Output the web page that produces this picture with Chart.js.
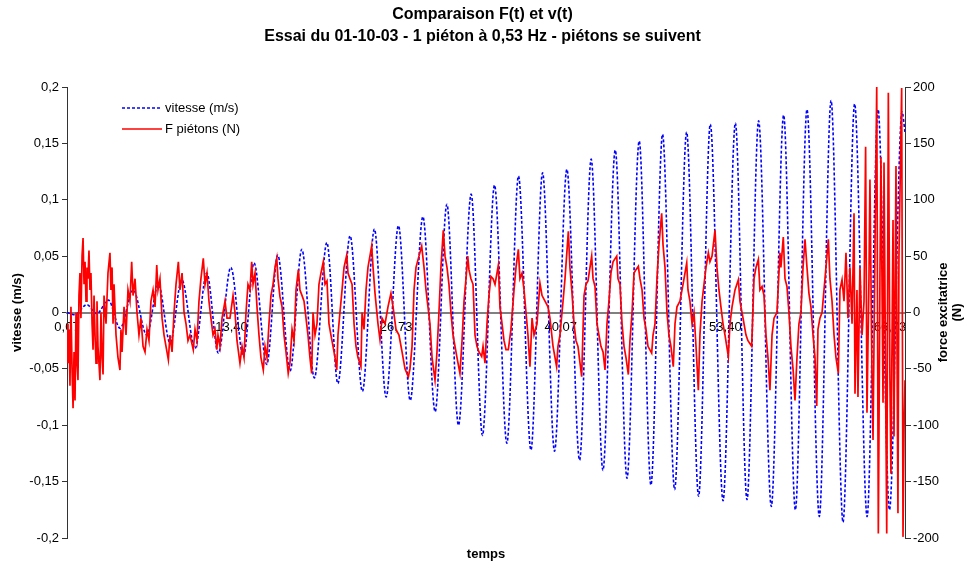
<!DOCTYPE html>
<html>
<head>
<meta charset="utf-8">
<script src="https://cdn.jsdelivr.net/npm/chart.js@4.4.1/dist/chart.umd.min.js"></script>
<style>
html, body { margin: 0; padding: 0; background: #fff; }
</style>
</head>
<body>
<canvas id="chart" width="965" height="567"></canvas>
<script>
const titleLines = ['Comparaison F(t) et v(t)', 'Essai du 01-10-03 - 1 piéton à 0,53 Hz - piétons se suivent'];
const xTitle = 'temps';
const yTitle = 'vitesse (m/s)';
const y1Title = ['force excitatrice', '(N)'];
const seriesNames = ['vitesse (m/s)', 'F piétons (N)'];

// tick labels of the time axis (s)
const xTickValues = [0.07, 13.40, 26.73, 40.07, 53.40, 66.73];
const xTickLabels = ['0,07', '13,40', '26,73', '40,07', '53,40', '66,73'];

// vitesse (m/s): [t, v] read at the crests and troughs
const vitesse = [
  [0.07,0],[0.72,-0.002],[1.67,0.007],[2.48,-0.001],[3.42,0.011],[4.37,-0.014],[5.44,0.020],[6.53,-0.020],
  [7.47,0.025],[8.42,-0.027],[9.37,0.029],[10.44,-0.032],[11.39,0.035],[12.33,-0.036],[13.34,0.040],[14.36,-0.039],
  [15.22,0.044],[16.25,-0.046],[17.14,0.051],[18.14,-0.052],[19.09,0.056],[20.11,-0.058],[21.12,0.062],[22.01,-0.063],
  [23.00,0.068],[24.00,-0.070],[24.97,0.074],[25.92,-0.075],[26.92,0.077],[27.87,-0.078],[28.90,0.085],[29.89,-0.088],
  [30.84,0.096],[31.78,-0.100],[32.81,0.105],[33.72,-0.109],[34.70,0.113],[35.70,-0.116],[36.64,0.121],[37.65,-0.122],
  [38.59,0.124],[39.56,-0.123],[40.56,0.127],[41.59,-0.131],[42.53,0.136],[43.48,-0.140],[44.48,0.144],[45.43,-0.147],
  [46.42,0.152],[47.37,-0.153],[48.31,0.158],[49.29,-0.157],[50.26,0.160],[51.23,-0.163],[52.18,0.167],[53.21,-0.167],
  [54.21,0.168],[55.15,-0.166],[56.09,0.170],[57.12,-0.172],[58.12,0.175],[59.07,-0.175],[60.01,0.180],[61.01,-0.181],
  [61.96,0.188],[62.93,-0.186],[63.87,0.185],[64.88,-0.181],[65.77,0.180],[66.69,-0.175],[67.71,0.178],[67.95,0.16]
];

// F piétons (N): [t, F]
const force = [
  [0.07,-10],[0.15,-45],[0.23,-15],[0.31,-65],[0.39,5],[0.48,-50],[0.56,-85],[0.64,-35],[0.72,-78],[0.80,0],
  [0.88,-45],[0.96,-60],[1.04,15],[1.12,35],[1.20,-5],[1.29,50],[1.37,66],[1.45,25],[1.53,45],[1.61,10],
  [1.69,40],[1.77,30],[1.85,55],[1.93,20],[2.01,35],[2.10,-10],[2.18,-33],[2.26,15],[2.34,-20],[2.42,-45],
  [2.50,10],[2.58,-30],[2.74,-60],[2.82,0],[2.91,-40],[2.99,-55],[3.07,15],[3.23,-10],[3.39,35],[3.55,53],
  [3.63,20],[3.72,40],[3.80,-10],[3.88,25],[4.04,-20],[4.20,-40],[4.36,-51],[4.44,-15],[4.53,-35],[4.69,5],
  [4.85,-20],[5.01,20],[5.17,10],[5.31,45],[5.42,15],[5.58,30],[5.74,0],[5.90,-20],[6.06,-5],[6.23,-30],
  [6.39,-35],[6.55,-15],[6.71,-25],[6.87,10],[7.04,20],[7.20,5],[7.34,42],[7.44,20],[7.60,30],[7.77,-5],
  [7.93,-20],[8.09,-30],[8.28,-42],[8.41,-20],[8.58,-35],[8.74,0],[8.90,25],[9.09,45],[9.22,20],[9.39,35],
  [9.55,0],[9.71,-10],[9.87,-25],[10.03,-20],[10.30,-33],[10.44,-15],[10.60,-25],[10.76,10],[10.92,30],[11.11,48],
  [11.25,25],[11.41,35],[11.57,10],[11.73,-5],[11.90,-20],[12.06,-15],[12.20,-33],[12.30,-20],[12.46,-30],[12.63,-5],
  [12.87,10],[13.03,-5],[13.27,-5],[13.52,15],[13.68,0],[13.84,-25],[14.08,-45],[14.25,-30],[14.41,-40],[14.57,0],
  [14.73,25],[14.89,20],[15.03,45],[15.14,25],[15.30,35],[15.46,5],[15.62,-20],[15.78,-40],[15.97,-51],[16.11,-30],
  [16.27,-40],[16.43,-10],[16.59,15],[16.76,25],[16.92,40],[17.06,48],[17.16,30],[17.32,14],[17.49,5],[17.65,-20],
  [17.81,-35],[17.99,-54],[18.13,-45],[18.30,-15],[18.46,-25],[18.62,20],[18.81,38],[18.94,20],[19.11,15],[19.27,10],
  [19.43,-5],[19.59,-20],[19.75,-40],[19.89,-54],[20.00,0],[20.16,-20],[20.32,-10],[20.48,25],[20.64,35],[20.83,45],
  [20.97,25],[21.13,28],[21.29,-10],[21.45,-20],[21.62,-30],[21.78,-40],[21.92,-51],[22.02,-20],[22.18,0],[22.35,20],
  [22.51,40],[22.73,51],[22.83,35],[22.99,30],[23.16,25],[23.32,-10],[23.48,-30],[23.64,-40],[23.88,-48],[23.97,0],
  [24.13,-15],[24.29,20],[24.45,40],[24.75,59],[24.86,40],[25.02,17],[25.26,-10],[25.42,-24],[25.59,-5],[25.83,-10],
  [26.07,5],[26.31,17],[26.48,5],[26.72,-15],[26.96,-20],[27.21,-35],[27.45,-50],[27.72,-57],[27.85,-50],[28.02,-30],
  [28.18,20],[28.34,40],[28.58,50],[28.80,59],[28.99,40],[29.15,20],[29.31,5],[29.47,-10],[29.64,-40],[29.88,-60],
  [30.04,-35],[30.20,0],[30.36,40],[30.55,73],[30.69,50],[30.85,40],[31.01,25],[31.17,0],[31.34,-20],[31.50,-30],
  [31.66,-40],[31.90,-54],[32.07,-25],[32.23,10],[32.39,30],[32.53,50],[32.63,38],[32.79,30],[32.96,25],[33.12,-20],
  [33.28,-30],[33.44,-35],[33.66,-39],[33.77,-30],[33.93,-45],[34.09,-10],[34.25,15],[34.41,32],[34.58,30],[34.74,25],
  [35.01,42],[35.14,5],[35.31,-10],[35.47,-25],[35.63,-33],[35.82,-33],[36.03,-15],[36.28,20],[36.44,40],[36.63,56],
  [36.76,30],[36.93,35],[37.09,20],[37.25,0],[37.41,-20],[37.57,-48],[37.74,-5],[37.90,-20],[38.14,-10],[38.38,26],
  [38.55,15],[38.79,10],[39.03,5],[39.19,-5],[39.44,-30],[39.73,-48],[39.84,-30],[40.00,-20],[40.25,10],[40.41,30],
  [40.68,72],[40.81,40],[40.98,17],[41.14,-10],[41.30,-25],[41.46,-30],[41.76,-57],[41.95,15],[42.11,25],[42.27,28],
  [42.57,50],[42.68,30],[42.84,23],[43.00,-10],[43.16,-20],[43.32,-30],[43.49,-35],[43.65,-51],[43.81,-10],[43.97,10],
  [44.13,35],[44.30,45],[44.60,50],[44.70,30],[44.86,25],[45.03,-10],[45.19,-30],[45.35,-40],[45.54,-55],[45.67,-25],
  [45.84,0],[46.00,35],[46.16,38],[46.35,41],[46.48,30],[46.65,20],[46.81,-5],[46.97,-15],[47.13,-30],[47.43,-36],
  [47.54,-20],[47.70,-10],[47.86,30],[48.02,60],[48.24,88],[48.35,60],[48.51,40],[48.67,0],[48.83,-20],[48.99,-30],
  [49.18,-48],[49.32,-10],[49.48,5],[49.72,10],[49.97,25],[50.27,44],[50.37,20],[50.53,10],[50.70,-10],[50.86,0],
  [51.02,-30],[51.21,-69],[51.34,-20],[51.51,10],[51.67,25],[51.83,40],[52.02,53],[52.15,45],[52.32,50],[52.56,73],
  [52.72,40],[52.88,20],[53.04,5],[53.21,-10],[53.37,-20],[53.64,-39],[53.77,-10],[53.94,5],[54.18,20],[54.45,29],
  [54.58,10],[54.83,-5],[55.07,-20],[55.23,-25],[55.53,-30],[55.72,30],[55.88,40],[56.07,47],[56.20,20],[56.37,23],
  [56.53,15],[56.69,-20],[56.85,-40],[57.01,-69],[57.18,-20],[57.34,-5],[57.58,0],[57.82,53],[57.90,40],[58.09,67],
  [58.23,30],[58.39,23],[58.55,0],[58.71,-30],[58.88,-50],[59.04,-78],[59.20,-40],[59.36,-10],[59.52,0],[59.69,40],
  [59.85,65],[60.01,40],[60.17,17],[60.33,5],[60.50,-20],[60.66,-40],[60.80,-83],[60.90,-15],[61.06,-5],[61.23,0],
  [61.47,30],[61.74,65],[61.87,30],[62.04,10],[62.20,-20],[62.36,-40],[62.55,-54],[62.68,20],[62.85,29],[63.01,10],
  [63.17,53],[63.33,-5],[63.49,40],[63.66,-10],[63.82,88],[63.90,-72],[64.06,20],[64.14,-75],[64.30,40],[64.47,-20],
  [64.63,10],[64.76,147],[64.87,-89],[65.03,30],[65.11,118],[65.28,-60],[65.36,-113],[65.52,60],[65.66,200],[65.79,-196],
  [65.92,30],[66.00,138],[66.17,-80],[66.25,133],[66.47,-196],[66.60,195],[66.73,-60],[66.81,-143],[66.98,82],[67.06,-110],
  [67.22,130],[67.38,-178],[67.46,50],[67.68,199],[67.79,-199],[67.87,-104],[67.95,-60]
];

const fontFamily = '"Liberation Sans", Arial, sans-serif';
Chart.defaults.font.family = fontFamily;
Chart.defaults.color = '#000';

const blue = '#0000ff';
const red = '#ff0000';
const tMin = 0.07, tMax = 67.95;

function frNum(v) {
  return String(Math.round(v * 100) / 100).replace('.', ',');
}

// legend drawn inside the plot, plus the right-hand axis title
const extras = {
  id: 'extras',
  afterDraw(chart) {
    const ctx = chart.ctx;
    const a = chart.chartArea;
    ctx.save();
    ctx.font = '13px ' + fontFamily;
    ctx.textBaseline = 'middle';
    ctx.textAlign = 'left';
    const lx = a.left + 55, ly = a.top + 21;
    ctx.lineWidth = 1.6;
    ctx.strokeStyle = blue;
    ctx.setLineDash([3, 2]);
    ctx.beginPath(); ctx.moveTo(lx, ly); ctx.lineTo(lx + 38, ly); ctx.stroke();
    ctx.setLineDash([]);
    ctx.strokeStyle = red;
    ctx.beginPath(); ctx.moveTo(lx, ly + 21); ctx.lineTo(lx + 40, ly + 21); ctx.stroke();
    ctx.fillStyle = '#000';
    ctx.fillText(seriesNames[0], lx + 43, ly);
    ctx.fillText(seriesNames[1], lx + 43, ly + 21);

    ctx.font = 'bold 13px ' + fontFamily;
    ctx.textAlign = 'center';
    ctx.translate(a.right + 38, (a.top + a.bottom) / 2);
    ctx.rotate(-Math.PI / 2);
    ctx.fillText(y1Title[0], 0, 0);
    ctx.fillText(y1Title[1], 0, 14);
    ctx.restore();
  }
};

new Chart(document.getElementById('chart'), {
  type: 'line',
  data: {
    datasets: [
      {
        label: seriesNames[0],
        data: vitesse.map(p => ({ x: p[0], y: p[1] })),
        yAxisID: 'y',
        borderColor: blue,
        borderWidth: 1.6,
        borderDash: [3, 2],
        pointRadius: 0,
        cubicInterpolationMode: 'monotone',
        order: 1
      },
      {
        label: seriesNames[1],
        data: force.map(p => ({ x: p[0], y: p[1] })),
        yAxisID: 'y1',
        borderColor: red,
        borderWidth: 1.7,
        pointRadius: 0,
        tension: 0,
        order: 0
      }
    ]
  },
  options: {
    responsive: false,
    animation: false,
    layout: { padding: 0 },
    plugins: {
      legend: { display: false },
      tooltip: { enabled: false },
      title: {
        display: true,
        text: titleLines,
        color: '#000',
        font: { size: 16, weight: 'bold', lineHeight: 1.375 },
        padding: { top: 4, bottom: 39 }
      }
    },
    scales: {
      x: {
        type: 'linear',
        position: { y: 0 },
        min: tMin,
        max: tMax,
        bounds: 'data',
        z: 1,
        grid: { display: false, drawTicks: false },
        border: { display: true, color: '#808080', width: 2 },
        afterBuildTicks: s => { s.ticks = xTickValues.map(v => ({ value: v })); },
        ticks: {
          autoSkip: false,
          maxRotation: 0,
          padding: 7,
          font: { size: 13 },
          callback: (v, i) => xTickLabels[i]
        }
      },
      xb: {
        type: 'linear',
        position: 'bottom',
        min: tMin,
        max: tMax,
        grid: { display: false },
        border: { display: false },
        ticks: { display: false },
        title: {
          display: true,
          text: xTitle,
          font: { size: 13, weight: 'bold' },
          padding: { top: 0, bottom: 5 }
        },
        afterFit: s => { s.height = 29; }
      },
      y: {
        position: 'left',
        min: -0.2,
        max: 0.2,
        grid: { display: true, drawOnChartArea: false, drawTicks: true, tickLength: 5, color: '#333' },
        border: { display: true, color: '#333', width: 1 },
        ticks: { stepSize: 0.05, padding: 3, font: { size: 13 }, callback: v => frNum(v) },
        title: {
          display: true,
          text: yTitle,
          font: { size: 13, weight: 'bold' },
          padding: { top: 10, bottom: 0 }
        },
        afterFit: s => { s.width = 67; }
      },
      y1: {
        position: 'right',
        min: -200,
        max: 200,
        grid: { display: true, drawOnChartArea: false, drawTicks: true, tickLength: 6, color: '#333' },
        border: { display: true, color: '#333', width: 1 },
        ticks: { stepSize: 50, padding: 2, font: { size: 13 }, callback: v => frNum(v) },
        afterFit: s => { s.width = 60; }
      }
    }
  },
  plugins: [extras]
});
</script>
</body>
</html>
